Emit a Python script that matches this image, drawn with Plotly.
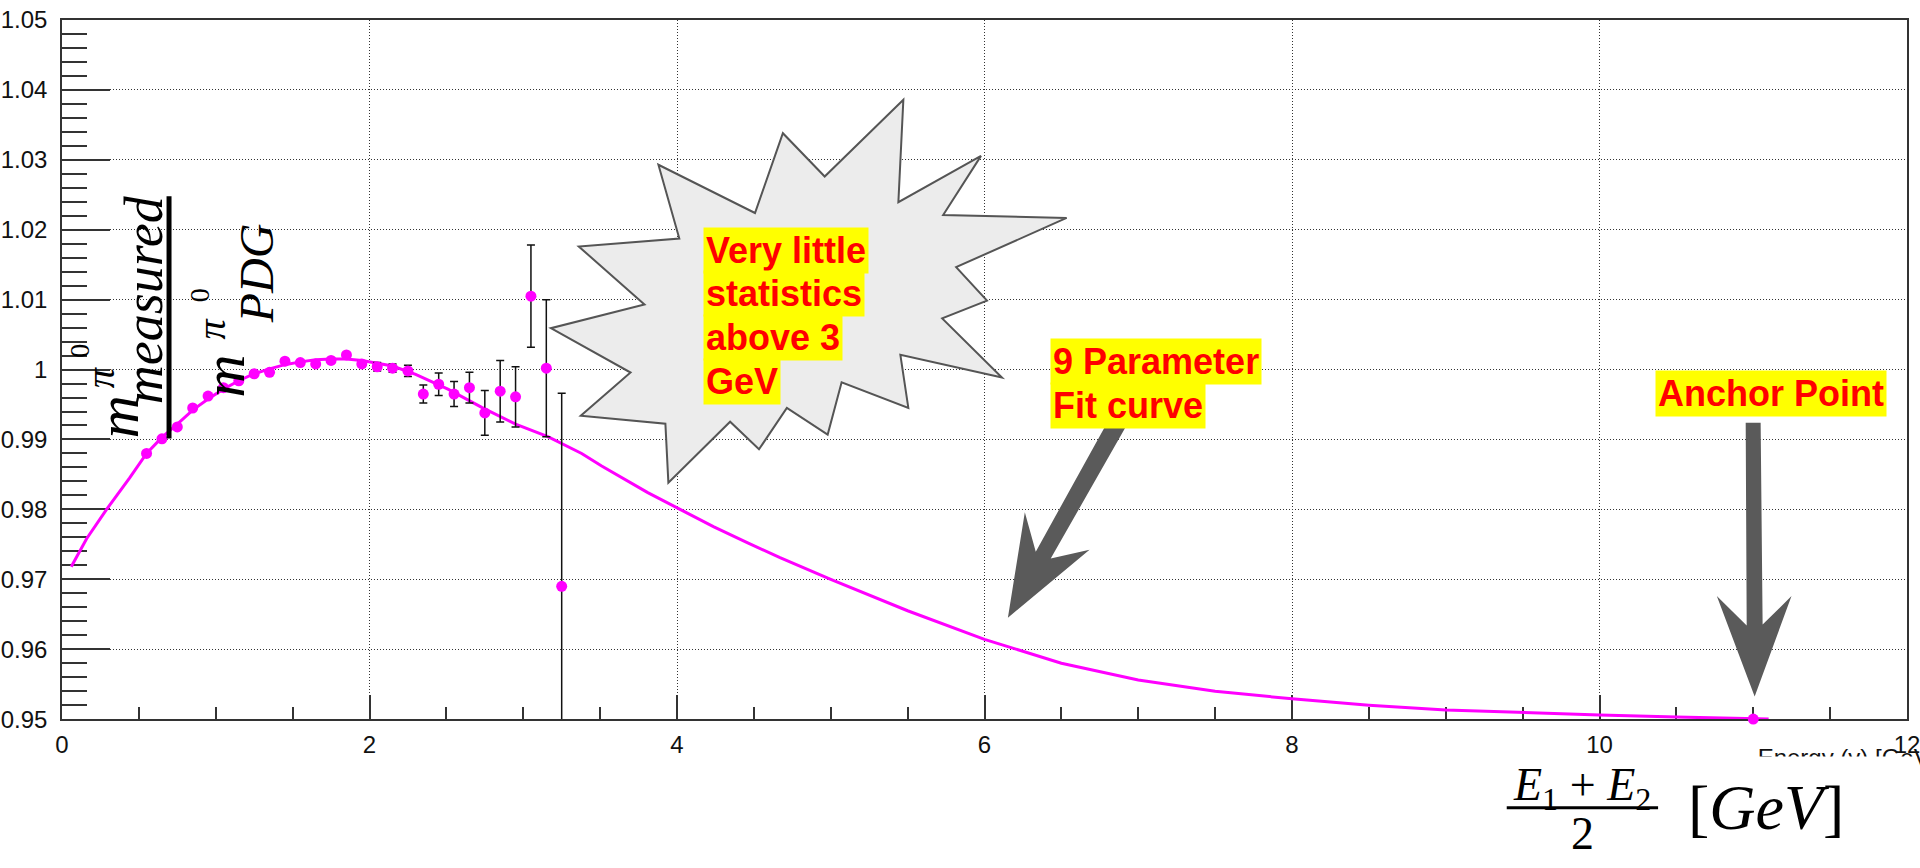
import plotly.graph_objects as go
import numpy as np

# ---------------- data ----------------
point_energy = [0.55, 0.65, 0.75, 0.85, 0.95, 1.05, 1.15, 1.25, 1.35, 1.45,
                1.55, 1.65, 1.75, 1.85, 1.95, 2.05, 2.15, 2.25, 2.35, 2.45,
                2.55, 2.65, 2.75, 2.85, 2.95, 3.05, 3.15, 3.25]
point_ratio = [0.9880, 0.9901, 0.9918, 0.9945, 0.9962, 0.9974, 0.9984, 0.9994, 0.9996, 1.0012,
               1.0010, 1.0008, 1.0013, 1.0021, 1.0008, 1.0004, 1.0002, 0.9998, 0.9965, 0.9979,
               0.9965, 0.9974, 0.9938, 0.9969, 0.9961, 1.0105, 1.0002, 0.9690]
point_error = [0.0002, 0.0002, 0.0002, 0.0002, 0.0002, 0.0002, 0.0002, 0.0002, 0.0003, 0.0003,
               0.0003, 0.0003, 0.0003, 0.0003, 0.0004, 0.0006, 0.0006, 0.0008, 0.0013, 0.0016,
               0.0018, 0.0022, 0.0032, 0.0044, 0.0043, 0.0073, 0.0098, 0.0276]

anchor_energy = [11.0]
anchor_ratio = [0.9500]
anchor_error = [0.0001]

fit_energy = [0.06, 0.16, 0.29, 0.44, 0.55, 0.65, 0.75, 0.85, 0.95, 1.05, 1.15, 1.25,
              1.35, 1.45, 1.55, 1.65, 1.75, 1.85, 1.95, 2.05, 2.15, 2.30, 2.51, 2.73,
              2.95, 3.16, 3.38, 3.51, 3.81, 4.02, 4.24, 4.46, 4.67, 5.0, 5.5, 6.0,
              6.5, 7.0, 7.5, 8.0, 8.5, 9.0, 9.5, 10.0, 10.5, 11.0, 11.1]
fit_ratio = [0.9718, 0.9758, 0.9800, 0.9845, 0.9880, 0.9903, 0.9922, 0.9942, 0.9958, 0.9972,
             0.9984, 0.9994, 1.0001, 1.0007, 1.0011, 1.0014, 1.0015, 1.0015, 1.0013, 1.0009,
             1.0005, 0.9993, 0.9972, 0.9946, 0.9922, 0.9904, 0.9880, 0.9862, 0.9824, 0.9800,
             0.9775, 0.9752, 0.9731, 0.9700, 0.9655, 0.9614, 0.9580, 0.9556, 0.9540, 0.9529,
             0.9520, 0.9513, 0.9509, 0.9506, 0.9503, 0.9500, 0.9500]

x_tick_values = [0, 2, 4, 6, 8, 10, 12]
x_tick_labels = ["0", "2", "4", "6", "8", "10", "12"]
y_tick_values = [0.95, 0.96, 0.97, 0.98, 0.99, 1.00, 1.01, 1.02, 1.03, 1.04, 1.05]
y_tick_labels = ["0.95", "0.96", "0.97", "0.98", "0.99", "1", "1.01", "1.02", "1.03", "1.04", "1.05"]
x_axis_title = "Energy (γ) [GeV]"

# ---------------- geometry helpers (pixel -> paper) ----------------
W, H = 1920, 868
ML, MR, MT, MB = 62, 5, 20, 0
PW = W - ML - MR
PH = H - MT - MB


def px(x):
    return (x - ML) / PW


def py(y):
    return (H - MB - y) / PH


def poly(points):
    return "M " + " L ".join(f"{px(a):.5f},{py(b):.5f}" for a, b in points) + " Z"


MAGENTA = "#ff00ff"
TICKFONT = dict(family="Liberation Sans, Arial, sans-serif", size=24, color="#111")
SERIF = "Liberation Serif, Times New Roman, serif"
BOLD = "Liberation Sans, Arial, sans-serif"

fig = go.Figure()

fig.add_trace(go.Scatter(x=fit_energy, y=fit_ratio, mode="lines",
                         line=dict(color=MAGENTA, width=3), hoverinfo="skip"))
fig.add_trace(go.Scatter(x=point_energy, y=point_ratio, mode="markers",
                         marker=dict(color=MAGENTA, size=11),
                         error_y=dict(type="data", array=point_error, color="#111",
                                      thickness=1.5, width=4)))
fig.add_trace(go.Scatter(x=anchor_energy, y=anchor_ratio, mode="markers",
                         marker=dict(color=MAGENTA, size=11), cliponaxis=False,
                         error_y=dict(type="data", array=anchor_error, color="#111",
                                      thickness=1.5, width=3)))
# axis title, lower part hidden behind a white patch (as in the reference)
fig.add_trace(go.Scatter(x=[1765], y=[772], mode="text", text=[x_axis_title],
                         textposition="middle right", textfont=TICKFONT,
                         cliponaxis=False, xaxis="x2", yaxis="y2", hoverinfo="skip"))

grid = dict(showgrid=True, gridcolor="#333", gridwidth=1, griddash="1px,2px")

fig.update_layout(
    width=W, height=H,
    margin=dict(l=ML, r=MR, t=MT, b=MB),
    paper_bgcolor="white", plot_bgcolor="white",
    showlegend=False,
    xaxis=dict(domain=[0, 1], range=[0, 12], tickmode="array",
               tickvals=x_tick_values, ticktext=x_tick_labels,
               ticks="inside", ticklen=24, tickwidth=1.5, tickcolor="#333",
               minor=dict(tickmode="array", tickvals=list(np.arange(0, 12.01, 0.5)),
                          ticks="inside", ticklen=12, tickwidth=1.5, tickcolor="#333",
                          showgrid=False),
               showline=True, linecolor="#333", linewidth=1.5, mirror=True,
               layer="below traces", zeroline=False, ticklabeloverflow="allow",
               tickfont=TICKFONT, ticklabelstandoff=3, **grid),
    yaxis=dict(domain=[py(730), 1], range=[0.95, 1.05], tickmode="array",
               tickvals=y_tick_values, ticktext=y_tick_labels,
               ticks="inside", ticklen=48, tickwidth=1.5, tickcolor="#333",
               minor=dict(tickmode="array", tickvals=list(np.arange(0.95, 1.0501, 0.002)),
                          ticks="inside", ticklen=25, tickwidth=1.5, tickcolor="#333",
                          showgrid=False),
               showline=True, linecolor="#333", linewidth=1.5, mirror=True,
               layer="below traces", zeroline=False, ticklabeloverflow="allow",
               tickfont=TICKFONT, ticklabelstandoff=8, **grid),
    xaxis2=dict(domain=[0, 1], range=[ML, W - MR], visible=False, anchor="y2"),
    yaxis2=dict(domain=[py(810), py(740)], range=[810, 740], visible=False, anchor="x2"),
)

shapes = []
# white patch hiding the lower part of the axis title
shapes.append(dict(type="rect", xref="paper", yref="paper", x0=px(1480), x1=px(1925),
                   y0=py(870), y1=py(768), fillcolor="white", line=dict(width=0), layer="above"))
# starburst
burst = [(661, 167), (758, 216), (786, 135), (828, 179), (907, 101), (902, 205),
         (985, 158), (947, 218), (1071, 221), (960, 271), (991, 305), (946, 323),
         (1006, 383), (904, 360), (912, 414), (845, 388), (831, 441), (790, 414),
         (762, 456), (733, 428), (671, 490), (668, 430), (583, 422), (633, 378),
         (553, 333), (647, 309), (581, 250), (682, 242)]
shapes.append(dict(type="path", xref="paper", yref="paper", path=poly(burst),
                   fillcolor="#ececec", line=dict(color="#555", width=2), layer="above"))
# arrows
arrow1 = [(1110, 432), (1040, 560), (1029, 520), (1012, 627), (1094, 558), (1055, 567), (1131, 432)]
arrow2 = [(1753, 429), (1754, 635), (1724, 605), (1762, 707), (1799, 605), (1770, 634), (1768, 429)]
for a in (arrow1, arrow2):
    shapes.append(dict(type="path", xref="paper", yref="paper", path=poly(a),
                       fillcolor="#5a5a5a", line=dict(width=0), layer="above"))
# fraction bar of the rotated ratio label
shapes.append(dict(type="rect", xref="paper", yref="paper", x0=px(167), x1=px(172),
                   y0=py(445), y1=py(199), fillcolor="black", line=dict(width=0), layer="above"))
# fraction bar of the energy formula
shapes.append(dict(type="rect", xref="paper", yref="paper", x0=px(1513), x1=px(1665),
                   y0=py(821.5), y1=py(818.5), fillcolor="black", line=dict(width=0), layer="above"))
fig.update_layout(shapes=shapes)

ann = []


def note(x, y, text, size, family=SERIF, angle=0, xa="center", ya="middle", bg=None,
         color="black", pad=2):
    d = dict(x=px(x), y=py(y), xref="paper", yref="paper", text=text, showarrow=False,
             textangle=angle, xanchor=xa, yanchor=ya,
             font=dict(family=family, size=size, color=color))
    if bg:
        d.update(bgcolor=bg, borderpad=pad)
    ann.append(d)


# highlighted red notes
for i, line in enumerate(["Very little", "statistics", "above 3", "GeV"]):
    note(706, 230 + 44.3 * i, f"<b>{line}</b>", 36, family=BOLD, xa="left", ya="top",
         bg="#ffff00", color="#ff0000")
for i, line in enumerate(["9 Parameter", "Fit curve"]):
    note(1054, 343 + 44.3 * i, f"<b>{line}</b>", 36, family=BOLD, xa="left", ya="top",
         bg="#ffff00", color="#ff0000")
note(1662, 375, "<b>Anchor Point</b>", 36, family=BOLD, xa="left", ya="top",
     bg="#ffff00", color="#ff0000")

# rotated ratio label  m_measured / m_PDG
note(118, 423, "<i>m</i>", 60, angle=-90)
note(101, 383, "<i>π</i>", 40, angle=-90)
note(80, 356, "0", 28, angle=-90)
note(144, 304, "<i>measured</i>", 54, angle=-90)
note(225, 382, "<i>m</i>", 60, angle=-90)
note(212, 334, "<i>π</i>", 40, angle=-90)
note(200, 299, "0", 28, angle=-90)
note(257, 277, "<i>PDG</i>", 48, angle=-90)

# energy formula
note(1589, 800, "<i>E</i><sub>1</sub> + <i>E</i><sub>2</sub>", 46)
note(1589, 846, "2", 46)
note(1773, 820, "[<i>GeV</i>]", 64)

fig.update_layout(annotations=ann)

fig.write_html("out.html")
